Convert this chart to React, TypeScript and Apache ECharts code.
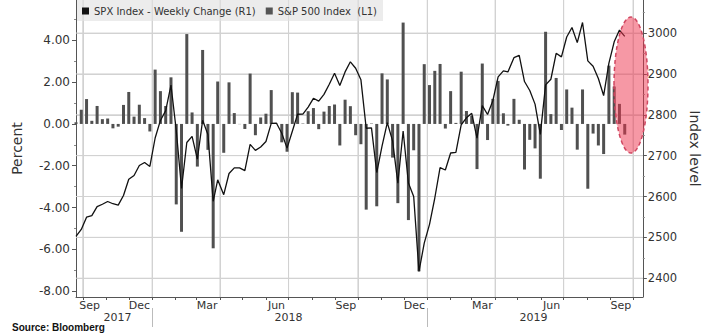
import React, { useEffect, useRef } from "react";
import * as echarts from "echarts";

// Weekly dates (Fridays / last trading day of week)
const weeks2017 = ["09-22", "09-29", "10-06", "10-13", "10-20", "10-27", "11-03", "11-10", "11-17", "11-24", "12-01", "12-08", "12-15", "12-22", "12-29"];
const weeks2018 = ["01-05", "01-12", "01-19", "01-26", "02-02", "02-09", "02-16", "02-23", "03-02", "03-09", "03-16", "03-23", "03-29", "04-06", "04-13", "04-20", "04-27", "05-04", "05-11", "05-18", "05-25", "06-01", "06-08", "06-15", "06-22", "06-29", "07-06", "07-13", "07-20", "07-27", "08-03", "08-10", "08-17", "08-24", "08-31", "09-07", "09-14", "09-21", "09-28", "10-05", "10-12", "10-19", "10-26", "11-02", "11-09", "11-16", "11-23", "11-30", "12-07", "12-14", "12-21", "12-28"];
const weeks2019 = ["01-04", "01-11", "01-18", "01-25", "02-01", "02-08", "02-15", "02-22", "03-01", "03-08", "03-15", "03-22", "03-29", "04-05", "04-12", "04-18", "04-26", "05-03", "05-10", "05-17", "05-24", "05-31", "06-07", "06-14", "06-21", "06-28", "07-05", "07-12", "07-19", "07-26", "08-02", "08-09", "08-16", "08-23", "08-30", "09-06", "09-13", "09-20"];

// S&P 500 index level (right axis)
const level2017 = [2502.2, 2519.4, 2549.3, 2553.2, 2575.2, 2581.1, 2587.8, 2582.3, 2578.9, 2602.4, 2642.2, 2651.5, 2675.8, 2683.3, 2673.6];
const level2018 = [2743.2, 2786.2, 2810.3, 2872.9, 2762.1, 2619.6, 2732.2, 2747.3, 2691.3, 2786.6, 2752.0, 2588.3, 2640.9, 2604.5, 2656.3, 2670.1, 2669.9, 2663.4, 2727.7, 2713.0, 2721.3, 2734.6, 2779.0, 2779.4, 2754.9, 2718.4, 2759.8, 2801.3, 2801.8, 2818.8, 2840.4, 2833.3, 2850.1, 2874.7, 2901.5, 2871.7, 2905.0, 2929.7, 2914.0, 2885.6, 2767.1, 2767.8, 2658.7, 2723.1, 2781.0, 2736.3, 2632.6, 2760.2, 2633.1, 2600.0, 2416.6, 2485.7];
const level2019 = [2531.9, 2596.3, 2670.7, 2664.8, 2706.5, 2707.9, 2775.6, 2792.7, 2803.7, 2743.1, 2822.5, 2800.7, 2834.4, 2892.7, 2907.4, 2905.0, 2939.9, 2945.6, 2881.4, 2859.5, 2826.1, 2752.1, 2873.3, 2887.0, 2950.5, 2941.8, 2990.4, 3013.8, 2976.6, 3025.9, 2932.1, 2918.7, 2888.7, 2847.1, 2926.5, 2978.7, 3007.4, 2992.1];

// Weekly change in percent (left axis)
const change2017 = [0.08, 0.68, 1.19, 0.15, 0.86, 0.23, 0.26, -0.21, -0.13, 0.91, 1.53, 0.35, 0.92, 0.28, -0.36];
const change2018 = [2.6, 1.57, 0.86, 2.23, -3.85, -5.16, 4.3, 0.55, -2.04, 3.54, -1.24, -5.95, 2.03, -1.38, 1.99, 0.52, -0.01, -0.24, 2.41, -0.54, 0.31, 0.49, 1.62, 0.01, -0.88, -1.33, 1.52, 1.5, 0.02, 0.61, 0.76, -0.25, 0.59, 0.86, 0.93, -1.03, 1.16, 0.85, -0.54, -0.97, -4.1, 0.02, -3.94, 2.42, 2.13, -1.61, -3.79, 4.85, -4.6, -1.26, -7.05, 2.86];
const change2019 = [1.86, 2.54, 2.87, -0.22, 1.57, 0.05, 2.5, 0.62, 0.39, -2.16, 2.89, -0.77, 1.2, 2.06, 0.51, -0.08, 1.2, 0.2, -2.18, -0.76, -1.17, -2.62, 4.41, 0.47, 2.2, -0.29, 1.65, 0.78, -1.23, 1.65, -3.1, -0.46, -1.03, -1.44, 2.79, 1.79, 0.96, -0.51];

// Tick labels
const leftTicks = [-8, -6, -4, -2, 0, 2, 4];
const leftMinorTicks = [-7, -5, -3, -1, 1, 3, 5];
const rightTicks = [2400, 2500, 2600, 2700, 2800, 2900, 3000];
const rightMinorTicks = [2450, 2550, 2650, 2750, 2850, 2950, 3050];
const monthLabelDates = ["2017-10-10", "2017-12-15", "2018-03-15", "2018-06-15", "2018-09-15", "2018-12-15", "2019-03-15", "2019-06-15", "2019-09-15"];
const monthLabelTexts = ["Sep", "Dec", "Mar", "Jun", "Sep", "Dec", "Mar", "Jun", "Sep"];
const yearLabelDates = ["2017-11-16", "2018-07-01", "2019-05-22"];
const yearLabelTexts = ["2017", "2018", "2019"];
const yearBreakDates = ["2018-01-01", "2019-01-01"];
const quarterDates = ["2017-10-01", "2018-01-01", "2018-04-01", "2018-07-01", "2018-10-01", "2019-01-01", "2019-04-01", "2019-07-01", "2019-10-01"];
const monthStartDates = [
  "2017-10-01", "2017-11-01", "2017-12-01", "2018-01-01", "2018-02-01", "2018-03-01", "2018-04-01", "2018-05-01", "2018-06-01",
  "2018-07-01", "2018-08-01", "2018-09-01", "2018-10-01", "2018-11-01", "2018-12-01", "2019-01-01", "2019-02-01", "2019-03-01",
  "2019-04-01", "2019-05-01", "2019-06-01", "2019-07-01", "2019-08-01", "2019-09-01", "2019-10-01",
];

const SERIES_LINE = "SPX Index - Weekly Change (R1)";
const SERIES_BAR = "S&P 500 Index  (L1)";

const t = (s: string) => new Date(s + "T00:00:00").getTime();

export default function App() {
  const ref = useRef<HTMLDivElement>(null);

  useEffect(() => {
    if (!ref.current) return;
    const chart = echarts.init(ref.current, null, { renderer: "svg" });

    const dates = [
      ...weeks2017.map((d) => t("2017-" + d)),
      ...weeks2018.map((d) => t("2018-" + d)),
      ...weeks2019.map((d) => t("2019-" + d)),
    ];
    const levels = [...level2017, ...level2018, ...level2019];
    const changes = [...change2017, ...change2018, ...change2019];
    const lineData = dates.map((d, i) => [d, levels[i]]);
    const barData = dates.map((d, i) => [d, changes[i]]);

    const xMin = t("2017-09-22");
    const xMax = t("2019-10-14");
    const rMin = 2354;
    const rMax = 3081;

    const monthLabelValues = monthLabelDates.map(t);
    const yearLabelValues = yearLabelDates.map(t);
    const nearestLabel = (v: number, vals: number[], texts: string[]) => {
      let best = 0;
      for (let i = 1; i < vals.length; i++) if (Math.abs(vals[i] - v) < Math.abs(vals[best] - v)) best = i;
      return Math.abs(vals[best] - v) < 86400000 * 5 ? texts[best] : "";
    };

    const font = "DejaVu Sans";
    const axisColor = "#555";
    const textColor = "#333";
    const gridColor = "#d2d2d2";

    const gridSeries = (data: number[][]) => ({
      type: "line",
      yAxisIndex: 1,
      data,
      symbol: "none",
      showSymbol: false,
      silent: true,
      z: 1,
      lineStyle: { color: gridColor, width: 1 },
      itemStyle: { color: gridColor },
    });

    const gridLineSeries = [
      ...rightTicks.map((v) => gridSeries([[xMin, v], [xMax, v]])),
      ...quarterDates.map((d) => gridSeries([[t(d), rMin], [t(d), rMax]])),
    ];

    chart.setOption({
      animation: false,
      backgroundColor: "#fff",
      grid: { left: 76, right: 62, top: 0, bottom: 38 },
      legend: {
        left: 77,
        top: 0,
        padding: [6, 6, 5, 5],
        backgroundColor: "rgba(226,226,226,0.65)",
        itemWidth: 7,
        itemHeight: 7,
        itemGap: 10,
        textStyle: { fontFamily: font, fontSize: 10, color: textColor },
        data: [
          { name: SERIES_LINE, icon: "rect", itemStyle: { color: "#111" } },
          { name: SERIES_BAR, icon: "rect", itemStyle: { color: "#555" } },
        ],
      },
      xAxis: [
        {
          type: "value",
          min: xMin,
          max: xMax,
          axisLine: { show: true, onZero: false, lineStyle: { color: axisColor, width: 1 } },
          axisTick: { show: true, length: 3, customValues: monthStartDates.map(t), lineStyle: { color: axisColor } },
          splitLine: { show: false },
          axisLabel: {
            customValues: monthLabelValues,
            formatter: (v: number) => nearestLabel(v, monthLabelValues, monthLabelTexts),
            fontFamily: font,
            fontSize: 11,
            color: textColor,
            margin: 3,
            hideOverlap: false,
          },
        },
        {
          type: "value",
          min: xMin,
          max: xMax,
          position: "bottom",
          offset: 11,
          axisLine: { show: false, onZero: false },
          axisTick: { show: true, length: 19, customValues: yearBreakDates.map(t), lineStyle: { color: "#bbb" } },
          splitLine: { show: false },
          axisLabel: {
            customValues: yearLabelValues,
            formatter: (v: number) => nearestLabel(v, yearLabelValues, yearLabelTexts),
            fontFamily: font,
            fontSize: 11,
            color: textColor,
            margin: 4,
            hideOverlap: false,
          },
        },
        {
          type: "value",
          min: xMin,
          max: xMax,
          position: "top",
          axisLine: { show: false, onZero: false },
          axisTick: { show: false, customValues: quarterDates.map(t) },
          axisLabel: { show: false },
          splitLine: { show: true, lineStyle: { color: gridColor, width: 1 } },
        },
      ],
      yAxis: [
        {
          type: "value",
          position: "left",
          min: -8.28,
          max: 5.93,
          name: "Percent",
          nameLocation: "middle",
          nameGap: 52,
          nameTextStyle: { fontFamily: font, fontSize: 14, color: textColor },
          axisLine: { show: true, onZero: false, lineStyle: { color: axisColor } },
          axisTick: { show: true, length: 4, customValues: leftTicks, lineStyle: { color: axisColor } },
          axisLabel: {
            customValues: leftTicks,
            formatter: (v: number) => v.toFixed(2),
            fontFamily: font,
            fontSize: 12,
            color: textColor,
            margin: 6,
          },
          splitLine: { show: false },
        },
        {
          type: "value",
          position: "right",
          min: rMin,
          max: rMax,
          name: "Index level",
          nameLocation: "middle",
          nameRotate: -90,
          nameGap: 44,
          nameTextStyle: { fontFamily: font, fontSize: 14, color: textColor },
          axisLine: { show: true, onZero: false, lineStyle: { color: axisColor } },
          axisTick: { show: true, length: 4, customValues: rightTicks, lineStyle: { color: axisColor } },
          axisLabel: {
            customValues: rightTicks,
            formatter: (v: number) => String(Math.round(v)),
            fontFamily: font,
            fontSize: 11.5,
            color: textColor,
            margin: 5,
          },
          splitLine: { show: true, lineStyle: { color: gridColor, width: 1 } },
        },
        {
          type: "value",
          position: "left",
          min: -8.28,
          max: 5.93,
          axisLine: { show: false },
          axisTick: { show: true, length: 2, customValues: leftMinorTicks, lineStyle: { color: "#888" } },
          axisLabel: { show: false },
          splitLine: { show: false },
        },
        {
          type: "value",
          position: "right",
          min: rMin,
          max: rMax,
          axisLine: { show: false },
          axisTick: { show: true, length: 2, customValues: rightMinorTicks, lineStyle: { color: "#888" } },
          axisLabel: { show: false },
          splitLine: { show: false },
        },
      ],
      series: [
        ...gridLineSeries,
        {
          name: SERIES_BAR,
          type: "bar",
          yAxisIndex: 0,
          barWidth: 3,
          itemStyle: { color: "#505050" },
          data: barData,
          z: 2,
        },
        {
          name: SERIES_LINE,
          type: "line",
          yAxisIndex: 1,
          data: lineData,
          symbol: "none",
          showSymbol: false,
          lineStyle: { color: "#111", width: 1.3 },
          itemStyle: { color: "#111" },
          z: 3,
        },
      ],
      graphic: [
        {
          type: "ellipse",
          z: 100,
          shape: { cx: 631, cy: 85, rx: 17, ry: 68 },
          style: {
            fill: "rgba(238,50,75,0.5)",
            stroke: "#cf4660",
            lineWidth: 1.5,
            lineDash: [4, 3],
          },
        },
        {
          type: "text",
          left: 12,
          top: 322,
          z: 100,
          style: {
            text: "Source: Bloomberg",
            font: "bold 10px 'Liberation Sans'",
            fill: "#111",
          },
        },
      ],
    });

    return () => chart.dispose();
  }, []);

  return (
    <div
      ref={ref}
      style={{ position: "fixed", left: 0, top: 0, width: 710, height: 335, background: "#fff" }}
    />
  );
}
